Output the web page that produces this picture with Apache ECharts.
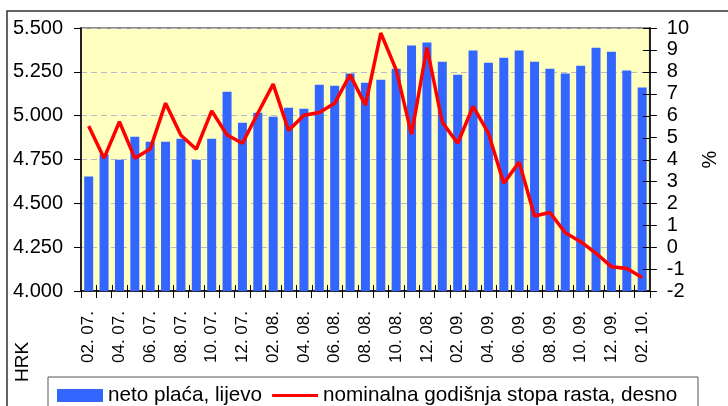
<!DOCTYPE html>
<html>
<head>
<meta charset="utf-8">
<script src="https://cdn.jsdelivr.net/npm/echarts@6/dist/echarts.min.js"></script>
<style>
html, body { margin: 0; padding: 0; background: #fff; }
#chart { width: 728px; height: 406px; }
</style>
</head>
<body>
<div id="chart"></div>
<script>
var months = ['02. 07.','03. 07.','04. 07.','05. 07.','06. 07.','07. 07.','08. 07.','09. 07.','10. 07.','11. 07.','12. 07.',
	'01. 08.','02. 08.','03. 08.','04. 08.','05. 08.','06. 08.','07. 08.','08. 08.','09. 08.','10. 08.','11. 08.','12. 08.',
	'01. 09.','02. 09.','03. 09.','04. 09.','05. 09.','06. 09.','07. 09.','08. 09.','09. 09.','10. 09.','11. 09.','12. 09.',
	'01. 10.','02. 10.'];

// neto plaća, HRK (lijeva os)
var netoPlaca = [4653, 4780, 4748, 4880, 4851, 4851, 4868, 4748, 4868, 5137, 4960, 5017, 4994,
	5045, 5040, 5177, 5171, 5240, 5188, 5205, 5268, 5400, 5417, 5308, 5234, 5371, 5302,
	5331, 5371, 5308, 5268, 5240, 5285, 5388, 5365, 5257, 5160];

// nominalna godišnja stopa rasta, % (desna os)
var stopaRasta = [5.53, 4.06, 5.72, 4.06, 4.48, 6.57, 5.11, 4.47, 6.22, 5.12, 4.74, 6.11, 7.44,
	5.32, 6.02, 6.14, 6.57, 7.86, 6.48, 9.77, 8.09, 5.15, 9.11, 5.70, 4.74, 6.42, 5.20,
	2.92, 3.88, 1.42, 1.58, 0.66, 0.25, -0.28, -0.89, -0.97, -1.38];

var font = 'Liberation Sans';
var pctMin = -2, pctMax = 10, pctStep = 1;

(function(){
	var myChart = echarts.init(document.getElementById('chart'));

	var baseGraphic = [
		{
			type: 'rect',
			shape: { x: 7, y: 11, width: 760, height: 420 },
			style: { fill: 'none', stroke: '#333', lineWidth: 1.5 },
			silent: true
		},
		{
			type: 'rect',
			shape: { x: 48, y: 377, width: 650, height: 40 },
			style: { fill: 'none', stroke: '#555', lineWidth: 1 },
			silent: true
		},
		{
			type: 'text',
			x: 23, y: 362,
			rotation: Math.PI / 2,
			style: { text: 'HRK', font: '19px ' + font, fill: '#000', textAlign: 'center', textVerticalAlign: 'middle' }
		}
	];

	option = {
		animation: false,
		backgroundColor: '#fff',
		textStyle: { fontFamily: font },
		grid: {
			left: 81, right: 53, top: 28, bottom: 115,
			show: true,
			backgroundColor: '#FFFFC0',
			borderColor: '#8c8c8c',
			borderWidth: 2
		},
		legend: {
			left: 57,
			top: 385,
			padding: 0,
			itemWidth: 46,
			itemHeight: 13,
			itemGap: 10,
			textStyle: { fontFamily: font, fontSize: 20.7, color: '#000' },
			data: [
				{ name: 'neto plaća, lijevo', icon: 'rect' },
				{ name: 'nominalna godišnja stopa rasta, desno', icon: 'path://M0,0h46v3h-46z' }
			]
		},
		graphic: baseGraphic,
		xAxis: {
			type: 'category',
			data: months,
			position: 'bottom',
			axisLine: { onZero: false, lineStyle: { color: '#000', width: 1.5 } },
			axisTick: { show: true, interval: 0, length: 7, lineStyle: { color: '#000' } },
			axisLabel: { interval: 1, rotate: 90, margin: 20, fontSize: 17, color: '#000', fontFamily: font },
			splitLine: { show: false }
		},
		yAxis: [
			{
				type: 'value',
				position: 'left',
				min: 4000, max: 5500, interval: 250,
				axisLine: { show: true, lineStyle: { color: '#000', width: 1.5 } },
				axisTick: { show: true, length: 7, lineStyle: { color: '#000' } },
				axisLabel: {
					margin: 18, fontSize: 20, color: '#000', fontFamily: font,
					formatter: function (v) {
						var s = String(v);
						return s.slice(0, s.length - 3) + '.' + s.slice(-3);
					}
				},
				splitLine: { show: true, lineStyle: { color: '#b8b8cc', type: [6, 4], width: 1 } }
			},
			{
				type: 'value',
				position: 'right',
				min: pctMin, max: pctMax, interval: pctStep,
				name: '%',
				nameLocation: 'middle',
				nameGap: 44,
				nameRotate: 90,
				nameTextStyle: { fontSize: 20, color: '#000', fontFamily: font },
				axisLine: { show: true, lineStyle: { color: '#000', width: 1.5 } },
				axisTick: { show: true, length: 7, lineStyle: { color: '#000' } },
				axisLabel: { margin: 17, fontSize: 20, color: '#000', fontFamily: font },
				splitLine: { show: false }
			}
		],
		series: [
			{
				name: 'neto plaća, lijevo',
				type: 'bar',
				yAxisIndex: 0,
				barWidth: 9,
				itemStyle: { color: '#3366FF' },
				data: netoPlaca
			},
			{
				name: 'nominalna godišnja stopa rasta, desno',
				type: 'line',
				yAxisIndex: 1,
				symbol: 'none',
				z: 4,
				lineStyle: { color: '#FF0000', width: 3.5 },
				itemStyle: { color: '#FF0000' },
				data: stopaRasta
			}
		]
	};

	myChart.setOption(option);

	// inner half of the crossing ticks (x axis and right axis), placed through the chart's own scales
	var ticks = [];
	var bottomY = myChart.convertToPixel({ yAxisIndex: 0 }, 4000);
	var rightX = myChart.convertToPixel({ xAxisIndex: 0 }, months.length - 1);
	var c0 = myChart.convertToPixel({ xAxisIndex: 0 }, 0);
	var c1 = myChart.convertToPixel({ xAxisIndex: 0 }, 1);
	var band = c1 - c0;
	rightX = rightX + band / 2;
	for (var i = 1; i < months.length; i++) {
		var x = Math.round(myChart.convertToPixel({ xAxisIndex: 0 }, i) - band / 2) + 0.5;
		ticks.push({
			type: 'line', silent: true, z: 5,
			shape: { x1: x, y1: bottomY, x2: x, y2: bottomY - 6 },
			style: { stroke: '#000', lineWidth: 1 }
		});
	}
	for (var v = pctMin; v <= pctMax; v += pctStep) {
		var y = Math.round(myChart.convertToPixel({ yAxisIndex: 1 }, v)) + 0.5;
		ticks.push({
			type: 'line', silent: true, z: 5,
			shape: { x1: rightX, y1: y, x2: rightX - 7, y2: y },
			style: { stroke: '#000', lineWidth: 1 }
		});
	}
	myChart.setOption({ graphic: baseGraphic.concat(ticks) });
})();
</script>
</body>
</html>
